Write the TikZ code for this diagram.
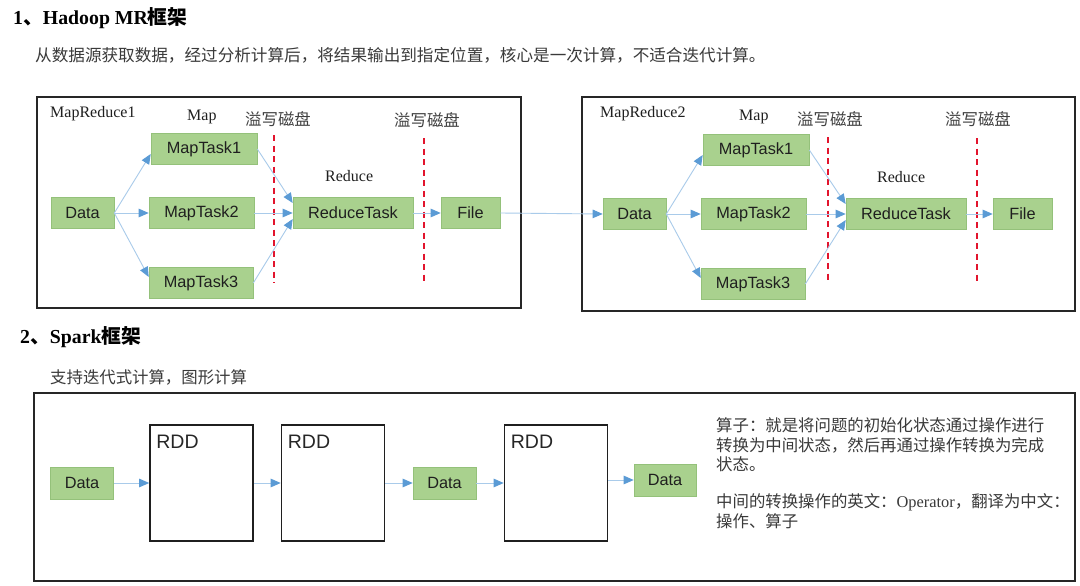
\documentclass[tikz,border=0pt]{standalone}
\usepackage{fontspec}
\setmainfont{Liberation Serif}
\newfontfamily\cjk{Noto Sans CJK SC}
\newfontfamily\arialf{Liberation Sans}
\usetikzlibrary{arrows.meta,calc}
\definecolor{gfill}{HTML}{A9D18E}
\definecolor{gedge}{HTML}{94C17A}
\definecolor{lblue}{HTML}{A9CBEA}
\definecolor{ablue}{HTML}{5B9BD5}
\definecolor{rdash}{HTML}{E2142D}
\definecolor{bodytxt}{HTML}{3A3A3A}
\tikzset{
  gbox/.style={draw=gedge, line width=0.6pt, fill=gfill, inner sep=0pt, text=black!88,
    font=\arialf\fontsize{16.3}{18}\selectfont, minimum height=31},
  conn/.style={draw=lblue, line width=0.9pt, -{Triangle[length=10pt,width=8.5pt,color=ablue]}},
  reddash/.style={draw=rdash, line width=2.6pt, dash pattern=on 6pt off 4.5pt},
  frame/.style={draw=black!85, line width=1.4pt},
  rddbox/.style={draw=black!88, line width=1.6pt, fill=white, minimum width=103, minimum height=116, inner sep=0pt},
  rddlbl/.style={anchor=west, inner sep=0pt, text=black!85, font=\arialf\fontsize{19.5}{21}\selectfont},
  serlbl/.style={anchor=west, inner sep=0pt, text=black!88, font=\fontsize{16}{18}\selectfont},
  cjklbl/.style={anchor=west, inner sep=0pt, text=bodytxt, font=\cjk\fontsize{16.4}{18}\selectfont},
  title/.style={anchor=west, inner sep=0pt, text=black, font=\fontsize{19.8}{22}\selectfont},
}
\begin{document}
\begin{tikzpicture}[x=1pt, y=-1pt]
\useasboundingbox[fill=white] (0,0) rectangle (1080,586);

% ---------- Section 1 ----------
\node[title] (t1) at (13,18) {\bfseries 1{\cjk\bfseries 、}Hadoop MR{\cjk\bfseries 框架}};
\node[cjklbl, font=\cjk\fontsize{16.6}{18}\selectfont] (s1) at (35,55) {从数据源获取数据，经过分析计算后，将结果输出到指定位置，核心是一次计算，不适合迭代计算。};

% MapReduce1 frame
\draw[frame] (37,97) rectangle (521,308);
\node[serlbl] (mr1) at (50,114) {MapReduce1};
\node[serlbl] (map1) at (187,117) {Map};
\node[cjklbl, text=black!75] (sp1a) at (245,119) {溢写磁盘};
\node[cjklbl, text=black!75] (sp1b) at (394,120) {溢写磁盘};
\node[serlbl] (red1) at (325,176) {Reduce};

\node[gbox, minimum width=63] (d1) at (82.5,213) {Data};
\node[gbox, minimum width=106] (m11) at (204,149) {MapTask1};
\node[gbox, minimum width=105] (m12) at (201.5,213) {MapTask2};
\node[gbox, minimum width=104] (m13) at (201,283) {MapTask3};
\node[gbox, minimum width=120] (r1) at (353,213) {ReduceTask};
\node[gbox, minimum width=59] (f1) at (470.5,213) {File};

\draw[reddash] (274,135) -- (274,283);
\draw[reddash] (424,138) -- (424,285);

\draw[conn] (d1.east) -- ($(m11.west)+(0,5)$);
\draw[conn] (d1.east) -- (m12.west);
\draw[conn] (d1.east) -- ($(m13.west)+(0,-6)$);
\draw[conn] (m11.east) -- ($(r1.west)+(0,-10)$);
\draw[conn] (m12.east) -- (r1.west);
\draw[conn] (m13.east) -- ($(r1.west)+(0,6)$);
\draw[conn] (r1.east) -- (f1.west);

% MapReduce2 frame
\draw[frame] (582,97) rectangle (1075,311);
\node[serlbl] (mr2) at (600,114) {MapReduce2};
\node[serlbl] (map2) at (739,117) {Map};
\node[cjklbl, text=black!75] (sp2a) at (797,119) {溢写磁盘};
\node[cjklbl, text=black!75] (sp2b) at (945,119) {溢写磁盘};
\node[serlbl] (red2) at (877,177) {Reduce};

\node[gbox, minimum width=63] (d2) at (634.5,214) {Data};
\node[gbox, minimum width=106] (m21) at (756,150) {MapTask1};
\node[gbox, minimum width=105] (m22) at (753.5,214) {MapTask2};
\node[gbox, minimum width=104] (m23) at (753,284) {MapTask3};
\node[gbox, minimum width=120] (r2) at (906,214) {ReduceTask};
\node[gbox, minimum width=59] (f2) at (1022.5,214) {File};

\draw[reddash] (828,137) -- (828,284);
\draw[reddash] (977,138) -- (977,285);

\draw[conn] (d2.east) -- ($(m21.west)+(0,5)$);
\draw[conn] (d2.east) -- (m22.west);
\draw[conn] (d2.east) -- ($(m23.west)+(0,-6)$);
\draw[conn] (m21.east) -- ($(r2.west)+(0,-10)$);
\draw[conn] (m22.east) -- (r2.west);
\draw[conn] (m23.east) -- ($(r2.west)+(0,6)$);
\draw[conn] (r2.east) -- (f2.west);

\draw[conn] (f1.east) -- (d2.west);

% ---------- Section 2 ----------
\node[title] (t2) at (20,337) {\bfseries 2{\cjk\bfseries 、}Spark{\cjk\bfseries 框架}};
\node[cjklbl] (s2) at (50,377) {支持迭代式计算，图形计算};

\draw[frame] (34,393) rectangle (1075,581);

\node[gbox, minimum width=63, minimum height=32] (sd1) at (82,483) {Data};
\node[rddbox] (rdd1) at (201.5,483) {};
\node[rddbox] (rdd2) at (333,483) {};
\node[gbox, minimum width=63, minimum height=32] (sd2) at (444.5,483) {Data};
\node[rddbox] (rdd3) at (556,483) {};
\node[gbox, minimum width=62, minimum height=32] (sd3) at (665,480) {Data};

\node[rddlbl] (l1) at ($(rdd1.north west)+(7,18)$) {RDD};
\node[rddlbl] (l2) at ($(rdd2.north west)+(7,18)$) {RDD};
\node[rddlbl] (l3) at ($(rdd3.north west)+(7,18)$) {RDD};

\draw[conn] (sd1.east) -- (rdd1.west);
\draw[conn] (rdd1.east) -- (rdd2.west);
\draw[conn] (rdd2.east) -- (sd2.west);
\draw[conn] (sd2.east) -- (rdd3.west);
\draw[conn] (sd3.west -| rdd3.east) -- (sd3.west);

\node[cjklbl] (p1) at (716,425) {算子：就是将问题的初始化状态通过操作进行};
\node[cjklbl] (p2) at (716,445) {转换为中间状态，然后再通过操作转换为完成};
\node[cjklbl] (p3) at (716,464) {状态。};
\node[cjklbl] (p4) at (716,502) {中间的转换操作的英文：{\rmfamily Operator}，翻译为中文：};
\node[cjklbl] (p5) at (716,521) {操作、算子};
\end{tikzpicture}
\end{document}
